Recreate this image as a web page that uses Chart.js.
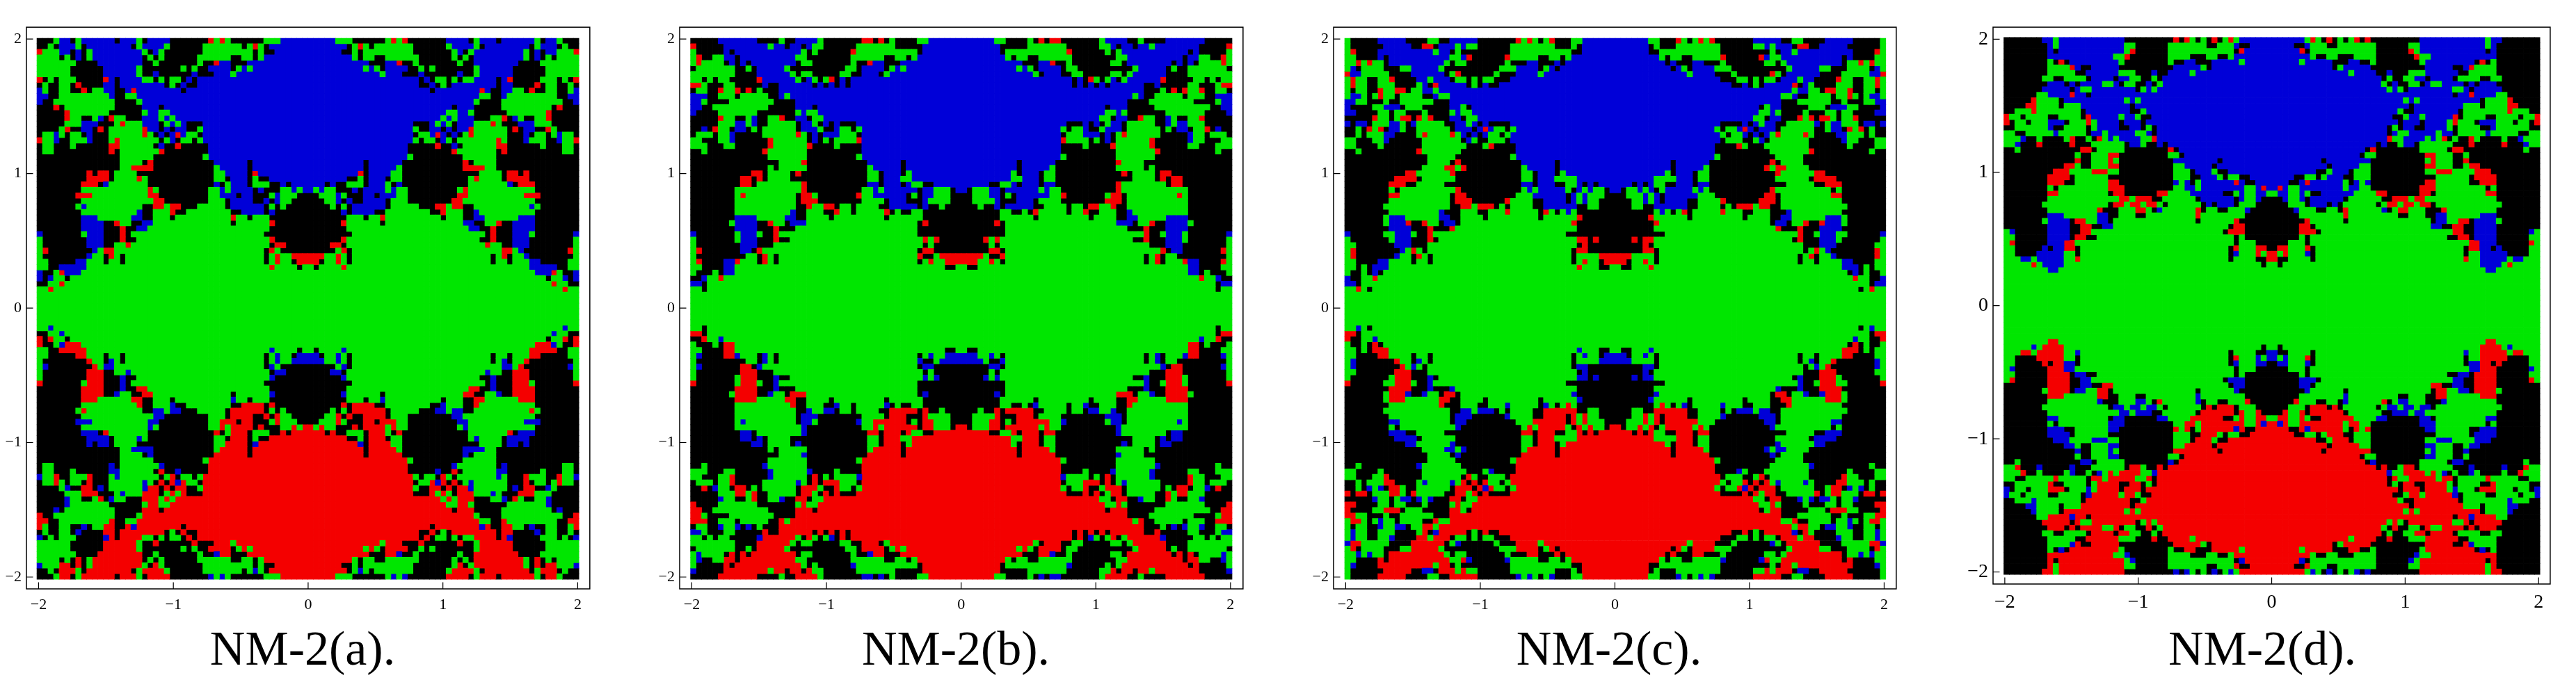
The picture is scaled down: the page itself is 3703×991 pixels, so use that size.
<!DOCTYPE html>
<html><head><meta charset="utf-8">
<script src="https://cdn.jsdelivr.net/npm/chart.js@4/dist/chart.umd.min.js"></script>
<style>
html,body{margin:0;padding:0;background:#fff;width:3703px;height:991px;overflow:hidden}
canvas{position:absolute}
.cap{position:absolute;top:898px;font:70px/70px "Liberation Serif",serif;color:#000;white-space:nowrap;transform:translateX(-50%)}
</style></head><body>
<script>
// Basin maps: upper-left quadrant of each panel, 49 rows by 49 columns.
// B blue, R red, G green, K black. Each space-separated group covers 10 columns (last 9).
const panelA=[
"KKKGBBKGBB BBBBKBBBGK BBBBKKKKKK KRGRGKKKKK KGGGBBBBB",
"KKGKBBBGKB BBBBBBBKGB BBBGKKKKKK GGGGGGGKGR GKBBBBBBB",
"RGGGBBKBKG BBBBBBBBBG KBGKKKKKKK GGGGGGGGGK GKKBBBBBB",
"GGGGKGKBKG BBBBBBBBBK GKGKKKKKKG GGGGGKKGGK GBBBBBBBB",
"GGGGGGGKKK KBBBBBBBBK KGKKKKKKKG KKRBBKKKBB B",
"GGGGGGKKKK KKBBBBBBGK KKKKKKGKGK KBBBBKGBGB B",
"GGGGGGKKKK KKBBBBBBGK KBKKKKKKBK KKBBBGBBBB B",
"RKGKGGGKKK KKRBKBBBBG GKGKGGKBKB B B",
"KGKKGGKRKK KKBBKBBBBB BBBKGKBKKB B B",
"BGKKGGKKRK GGBBKKBRBB BBBBBBKBBB B B",
"BBKKGGGGGG GGGBKKGGBB B B B",
"BKKGGGGGGG GGGGKKKKGB B B B",
"KKKRKGGGGG GGGGKKKKKB BBKBBBBBBB B B",
"KKKKKRGGGG GGGKKKKKKG BBGGBBBBBB B B",
"KKKKKRGGKK GBKRGGKKKB BBGBGBBBBB B B",
"KKKKKGGGBB BKKKGRGGGB BBKGBGBKKK B B",
"KKKKGRKKBB KRKGGGGGGR BBKBKBBKKG B B",
"KGGBGKGGKB KKKGGGGGGR GKBKBRBGGK B B",
"RGGBKKGGGB KKKGRGGGGG GGKGBKGGKG B B",
"KGGKKKGKKK KKKRRGGGGG GKBKKRKKKK KB B",
"KGGKKKKKKK KKKRKGGGGG GGRKKKKKKK KB B",
"K KKKKKGGGGG GKKKKKKKKK GB B",
"K KKKKKGGGGK RK KKBBBBBBKB B",
"K KKKKKGGRRR RK KKGBBBBBKB B",
"KKKKKKKKKR KRRKGGGGKK K KKGGBBBBKR B",
"KKKKKKKKKR RRRKGGGGRG K KKGGKBBBKG KKB",
"KKKKKKKKRR RKBGGGGGGG K KKBKGBBBKG GGKKBKB",
"KKKKKKKKGG G RGK KGGBGBBBBK BKKKGGBGB",
"KKKKKKKRRR G RRK KGGBBBKBBK KKGBGGGKK",
"KKKKKKKKGG G GRRK KGGGKBBBBK KBKBGGK",
"KKKKKKKGBG GGGGGGGGGK KRRGRRKKKG GGGGKB BKGKGK",
"KKKKKKKKGG GGGGGGGGBK KGGGRKKGGG GGGGGKKBBB BKBK",
"KKKKKKKKBB BGGGGGGBBK KGGGKGGGGG GGGGGRGGKG GGK",
"KKKKKKKKBB BBKKRGGKKB BG GGGGGKGGGG GGRK",
"KKKKKKKKBB BBKKKRKKBB G G GGK",
"BKKKKKKKGB BBKKKRKGGG G G GK",
"GKKKKKKKKB BBKKKRKKGG G G GGRK",
"GKKKKKKKKB BBKKGGRGGG G G GGKRRK",
"GRKKKKKKKK BGRRGGGGGG G G GKRGK",
"GKKKKKKKKB GGKRGKGGGG G G GKGRGGRRR",
"GGKKKKKBBG GGKGGKGGGG G G GKGRGGKRR",
"GGKKBBBBBG G G G GGRGGGGKG",
"BKKGRBBBGG G","BKBGGKGGGG G","KKGGRGGGGG G","GGRGGGGGGG G","G","G","G"];
const panelB=[
"KKKKKBBBBB BBKKKKGKKB BBBGKKKKKK KRRKRKGKKK KGGB",
"RKKKKKBBBB BBBBGBBKBB KBGGKKKKKK GGGGGGGKKK KKB",
"GKKKKKBKBB B GKGKKKKKKR G GKB",
"GRKKGGBBKB BBBBBBBBBG GKKKKKKKKG GGGGGKKGGK GB",
"GRGGGGKBKB KBBBBBBBBK GGKKKKKKKG KKRBBKKKBB B",
"KGGGGGGGKK GKBBBBBGKK KKKKKKKKGG KBBBBKGBGB B",
"GGGGGGGGKK KKBBBBBBGK GGKKKKKGGK KBBBKGBBBB B",
"GGKGKGGKKK KKRBBBBBBG KBGKGRKBKB B B",
"RRGKKKGGKK KKKBKKBBBB BBKBKBKBKB B B",
"KGGKKRGGRK RKGKKKBBBB B B B",
"BBBKKGGGKG GGGGKKBGBB B B B",
"BBGKKKKGGG GGGGGKKKKB B B B",
"BBKKGGGGGG GGGGKKKKKB BBKB B B",
"BKKKKGGGGG GGKKKKKKKG BGGB B B",
"KKKKKRGGKK GBKKGGRKKB BKGGB B B",
"KKKKKGGGBB GBKKGGGGGK BBGKBKBKKK B B",
"KKBKRGGKBB KGKGGGGGGK BBBGKKBGGK GB B",
"KGGGKGGBKK KKKGGGGGGR GKBKBBBGGG KB B",
"GGKKKGGBKK KKKKRGGGGG GKBKGKGGGG RB B",
"GGGKKKGGKK KKKKRGGGGG GRKKKKGKKK KB B",
"KKGK KKKRGGGGGG GK KB B",
"K KKKKGGGGGG GK GB B",
"K KKKKKKGGGG RK KKBBBBBBKB B",
"K KKKKGKGGGG GK KKGBBBBBKB B",
"K KRRKGGGGKR K KKGGKBBBKG B",
"KKKKKKKKKR RKRKGGGGKK K KKGGKBBBGG B",
"KKKKKKKKKR RKG RK KKBBKBBBKB GGKKB",
"KKKKKKKKGG G RK KGGBGB BKBBGGGKB",
"KKKKKKKKGR GGGGGGGGGK RRGK RGGBBBBBBK GKBBGGGKK",
"KKKKKKKKGG GGGGGGGGGK RRRK KGGGGKBBBK KKBGGGGKK",
"KKKKKKKKGG GGGGGGGGGK KRGGRRKGGK GGGGKKB BKBKKGK",
"KKKKKKKKGG GGGGGGGGBK KGGGKKRGGK GGGGGRKGKK GGK",
"KKKKKKKKBB BBGGGGGBBK KGGGGKGGGG GGGGGKGGGG GGK",
"KKKKKKKGBB BBKKRGGKBB BG G GKRK",
"KKKKKKKKBB BBKKKRKKKG G G GK",
"BKKKKKKKGB BBGKKRGGGG G G GK",
"GKKKKKKKGB BBKKKRKKGG G G GGRGRK",
"GKKKKKKKKB BBKKKGGGGG G G GGKGK",
"GRKKKKKKKB BKRG G G GKRRK",
"GKKKKKKKKK GGKRGKGGGG G G GRKKGRRRR",
"GRKKKKBBRG GGKRGKGGGG G G GKGRGGRRR",
"GGKKKKBBGG G G G GGGGGGKKG",
"GKKKGKBBGG G","KKBGGRGGGG G","BBKGGGGGGG G","GGKGGGGGGG G","G","G","G"];
const panelC=[
"GKKKKKBBBB BKKKKGGKKB BBBBKKKKKK KRGRGKGRKK KGGB",
"GKKKKKKBBB BBKKRRKBBB GBGGKKKKKK GGGGGGGGKK KGKB",
"GRKKKKBBBB BBBBBBGBBK GK G GKKB",
"GGKKKKBKBB BBBBBBBBBG GBRKKKKKKR GGGGGKKGGK GB",
"GGRGRGGKBB BBBBBBBBGK GGKKKKKKKG KKKBBKKKBK B",
"GBKGGGGKKK GGBBBBBGKK KKKKKKKKGG GBBBBKGBKB B",
"RBBGGGGGKK KKBBBBBBKG RKKKKKKGKK KBBBBGB B",
"GRGGKKGGRK KKKBBGBBBK GGKGKGGKKK B B",
"GRGGKKGGGK KKKGBKRBBB BBKGKBKKBB B B",
"GKGGKKRGGR RKGGBBGBBB B B B",
"GBBGKGRGGK GGGGKKBGGB B B B",
"BBGGKKKGKK GGGGGGKKKB B B B",
"BKKKKGGBBB KGGGKKKKKB BGKB B B",
"BBKKKKGGKG GKKKGKKKKG BGGB B B",
"KKKKKRGGKG RRKRGRKKKB BKGGB B B",
"BKBBKGGGBB GKBGGGGGKK BBGBKBKKKK B B",
"KKGKRGRKBB GKKGGGGGGK BBBKBRBGGK GB B",
"KKGKGGGBBK KKKGRGGGGR GBKBKBGGKG B B",
"GGKKKGGBKK KKKKGGGGGG GKBGKKGGGK B B",
"GGKKKKGKKK KKKKGGGGGG GGKKKGRKKK KB B",
"KKGK KKKRGGGGGG GK KB B",
"K KKKKKGGGGG K GB B",
"K KKKKKGGGGK RK KKBBBBBBKB B",
"K KKKKGGGGRR GRK KKGBBBBBKB B",
"K KRRGGGGGGR K KKGGKBBBKG B",
"KKKKKKKKKR RRRKGGGGGG K KKGGKBBBGG GGB",
"KKKKKKKKRR RKKGGGGGKK K KKBBKBBBKK GGBKBKB",
"KKKKKKKKGK G RK KKGBGB GKBGBGGKB",
"KKKKKKKKRR GGGGGGGGGK RRK KGGGB KBGBGGGKK",
"KKKKKKKKGG GGGGGGGGGK RRRKKKKKKR GGGGKKB KBGBGGK",
"KKKKKKKGGG GGGGGGGGGK KRRGRRRKGK GGGGKKB BBKKGGK",
"KKKKKKKKGG GGGGGGGBKK KGGGKKGGGR GGGGGKRGKG BGK",
"KKKKKKKGBB BGGGGGGBBK KGGGGKGGGG GGGGGKGGGG GGRK",
"KKKKKKKGBB BRKKRGGKBB KG G GRK",
"KKKKKKKKBB BBKKKRKKKR G G GGK",
"BKKKKKKGGB BBGKKRGGGG G G K",
"GKKKKKKKGB BBKKKRKGGG G G GGRRKRK",
"GGKKKKKKKB BBKKKGGGGG G G GGKRK",
"GRKKKKKKKK BGRGKGGGGG G G GKRRK",
"GRKKKKKKKB GGKRGKGGGG G G GKGGGGRRR",
"GGKKKKBBGG GGKGGKGGGG G G GKGRGGKRR",
"GGKGKBBBGG G G G GGRGGGKKG",
"GKKGKBKGGG G","BKKGGRGGGG G","BBKGGGGGGG G","GGRGKGGGGG G","G","G","G"];
const panelD=[
"KKKKKKKBBG B BBKKKKKKKK KRKRGKGKRK GRGB",
"KKKKKKKKBG B BBGGKKKKKK GGGGGGGKKG GGBKKB",
"KKKKKKKKBK B BBGRKKKKKK G GGKRB",
"KKKKKKKKBB B GGRKKKKKKK GGGGKKKGGK KGB",
"KKKKKKKKGK RKB BGKKKKKKKK GKKBBKKKBB BBBGB",
"KKKKKKKKGG GGRBKKBBBB BKKKKKKKKK KBBBBBGKBB B",
"KKKKKKKKGG GGGKKBBBBB BGGGKKKBKK BBBBGB B",
"KKKKKKKGGK KGGGGKBBBB KBBGGKKGKB B B",
"KKKKKKKKBB BKBKBBBBGG BKGGKKBKGB B B",
"KKKKKKKBBB BBKBGGBBBB BBBBKGBGBB B B",
"KKKKKKGGBB BBRBBKBBBB B B B",
"KKKKKRGGGG KB BBGBGB B B",
"KKKKRRGGGG KGGGB BBBKB B B",
"KKGGGRGGGG GGGGKB BBBKKGB B B",
"RGGKGGGGKK GGGGKRB BGBBGKKB B B",
"RKGGKGGGBB BKGGGRGB BKBBBKB B B",
"KKGGGGGGBK KGGGGKGB BKKBBKGKBB B B",
"GGKKGGGGGB GGGGGKBBGB BBBBGGBKBB B B",
"GGGBKKGKKK KGRKKGKRGB GBBBBGGRBB B B",
"GGBKKKRKKK KKRKKKGGGG GGKBBGKKBK B B",
"KKGK KKKKRRKGGG GGK RKB B",
"K KKKGKKGGGR RK GGKB B",
"K KKKRKKGGGR GK KBBBBBBBBK B",
"K KRRGKKGGGR RK KGGBBBBBKB B",
"KKKKKKKKKR RRGGGGRRRG GK KGGGKBBBGK KB",
"KKKKKKKKRR RRKGGGGGGK K KGGGKKBBBG KGGKKB",
"KKKKKKKKRR RKKGGGGGGR RK KBGBKGB BBRBKKB",
"KKKKKKKKGK GGGGGGGGGR RRK KGGBBGB BBBBGGBRB",
"KKKKKKKKRR GGGGGGGGGK RRKKKKKKRR GGGGB KKGBGGBBG",
"KKKKKKKKGG G GRRGRRRKKG GGGGGKB BBKBGGBKK",
"KKKKKKKGGG GGGGGGGGGK RRGRRGRRGK GGGGGGKBKB BBKGGGK",
"KKKKKKKKGG GGGGGGGRKK KGGGRRGKBG GGGGGRKGGK KGGGBK",
"KKKKKKKKBB BGGGGGGBBK KGGGKKG GGGGGRG GGGGK",
"KKKKKKKGBB BBKRRGGBBK G GGGGGKG GGRK",
"KKKKKKKKBB BBKKRRKKBB G G GKRRK",
"GBKKKKKKBB BBKKRRG G G KRRRK",
"GGKKKKKKBB BBKRRKKGGG G G GGKGK",
"GRKKKKKKBB BRRG G G GGKGGGK",
"GGKKKKKBKB BRRKG G G GKRGGGRRK",
"GGKKKKBBBB BGGKG G G GKBGGGRGR",
"GGGBBGBBBB BGGRG G G GKGGGGKKR",
"GGGGGRGBBB BG G G GGGGGGGKG",
"GGGGGGGGBB G","G","G","G","G","G","G"];

const tickValues=[-2,-1,0,1,2];
const tickLabels=["\u22122","\u22121","0","1","2"];
const captions=["NM-2(a).","NM-2(b).","NM-2(c).","NM-2(d)."];
const panelMaps=[panelA,panelB,panelC,panelD];
// small isolated specks on the x = 0 line
const speckY=[1,0.5,0,-0.5,-1];
const speckColor=["#00e600","#f40000","#f40000","#0000d8","#00e600"];

const COLORS={B:"#0000d8",R:"#f40000",G:"#00e600",K:"#000000"};
const layouts=[
 {l:37.5,r:851,t:35,b:847,x:[-2.09,2.09],y:[-2.088,2.088],px:[-2.012,2.009],py:[-2.016,2.006],cap:435,fs:22},
 {l:976.6,r:1790.7,t:35,b:847,x:[-2.09,2.093],y:[-2.088,2.088],px:[-2.009,2.011],py:[-2.016,2.006],cap:1374,fs:22},
 {l:1916.6,r:2729.5,t:35,b:847,x:[-2.09,2.09],y:[-2.088,2.088],px:[-2.007,2.012],py:[-2.016,2.006],cap:2313,fs:22},
 {l:2864.7,r:3670,t:34.8,b:839.5,x:[-2.088,2.087],y:[-2.09,2.09],px:[-2.007,2.01],py:[-2.018,2.013],cap:3252,fs:28}
];
const AXW=38, AXH=50, PAD=2, N=49;

function expand(rows){
  return rows.map(row=>{
    const parts=row.split(" "); let s="";
    for(let i=0;i<5;i++){
      const want=i<4?10:9;
      const p=parts[i]||s[s.length-1];
      s+=p.padEnd(want,p[p.length-1]).slice(0,want);
    }
    return s;
  });
}
const swap={B:"R",R:"B",G:"G",K:"K"};

const framePlugin={id:"frame",afterDraw(c){
  const a=c.chartArea,g=c.ctx;
  g.save();g.strokeStyle="#000";g.lineWidth=1.5;
  g.strokeRect(a.left,a.top,a.right-a.left,a.bottom-a.top);
  g.beginPath();
  c.scales.x.ticks.forEach(t=>{const p=c.scales.x.getPixelForValue(t.value);g.moveTo(p,a.bottom);g.lineTo(p,a.bottom-9.5);});
  c.scales.y.ticks.forEach(t=>{const p=c.scales.y.getPixelForValue(t.value);g.moveTo(a.left,p);g.lineTo(a.left+9.5,p);});
  g.lineWidth=1.2;g.stroke();g.restore();
}};

layouts.forEach((L,idx)=>{
  const grid=expand(panelMaps[idx]);
  const cw=(L.px[1]-L.px[0])/(2*N), ch=(L.py[1]-L.py[0])/(2*N);
  const pts={B:[],R:[],G:[],K:[]};
  for(let r=0;r<N;r++)for(let c=0;c<N;c++){
    const v=grid[r][c];
    const xl=L.px[0]+(c+.5)*cw, xr=L.px[1]-(c+.5)*cw;
    const yt=L.py[1]-(r+.5)*ch, yb=L.py[0]+(r+.5)*ch;
    pts[v].push({x:xl,y:yt},{x:xr,y:yt});
    pts[swap[v]].push({x:xl,y:yb},{x:xr,y:yb});
  }
  const W=L.r-L.l, H=L.b-L.t;
  const cv=document.createElement("canvas");
  const cssW=Math.round(W+AXW+PAD), cssH=Math.round(H+AXH+PAD);
  cv.style.width=cssW+"px";cv.style.height=cssH+"px";
  const wrap=document.createElement("div");
  wrap.style.cssText=`position:absolute;left:${L.l-AXW}px;top:${L.t-PAD}px;width:${cssW}px;height:${cssH}px`;
  cv.style.left="0";cv.style.top="0";
  wrap.appendChild(cv);document.body.appendChild(wrap);
  const unitPx=W/(L.x[1]-L.x[0]);
  const rad=(cw*unitPx+0.7)*Math.SQRT1_2;
  const mk=k=>({label:k,data:pts[k],backgroundColor:COLORS[k],borderWidth:0,pointStyle:"rect",pointRadius:rad,pointHoverRadius:rad,showLine:false});
  const speck={label:"specks",data:speckY.map(y=>({x:0,y})),backgroundColor:speckColor,borderWidth:0,pointStyle:"rect",pointRadius:2.8,showLine:false};
  const font={family:'"Liberation Serif",serif',size:L.fs};
  new Chart(cv,{type:"scatter",
    data:{datasets:[mk("G"),mk("B"),mk("R"),mk("K"),speck]},
    options:{responsive:false,animation:false,events:[],parsing:false,normalized:true,devicePixelRatio:1,
      layout:{padding:{top:PAD,right:PAD,left:0,bottom:0}},
      plugins:{legend:{display:false},tooltip:{enabled:false},title:{display:false}},
      scales:{
        x:{type:"linear",min:L.x[0],max:L.x[1],
           afterFit:s=>{s.height=AXH;s.paddingLeft=0;s.paddingRight=0},afterBuildTicks:s=>{s.ticks=tickValues.map(value=>({value}))},
           grid:{display:false,drawTicks:false},border:{display:false},
           ticks:{font,color:"#000",padding:10,autoSkip:false,maxRotation:0,includeBounds:false,callback:v=>tickLabels[tickValues.indexOf(v)]}},
        y:{type:"linear",min:L.y[0],max:L.y[1],
           afterFit:s=>{s.width=AXW;s.paddingTop=0;s.paddingBottom=0},afterBuildTicks:s=>{s.ticks=tickValues.map(value=>({value}))},
           grid:{display:false,drawTicks:false},border:{display:false},
           ticks:{font,color:"#000",padding:7,autoSkip:false,includeBounds:false,callback:v=>tickLabels[tickValues.indexOf(v)]}}
      }},
    plugins:[framePlugin]});
  const d=document.createElement("div");d.className="cap";d.style.left=L.cap+"px";d.textContent=captions[idx];
  document.body.appendChild(d);
});
</script>
</body></html>
